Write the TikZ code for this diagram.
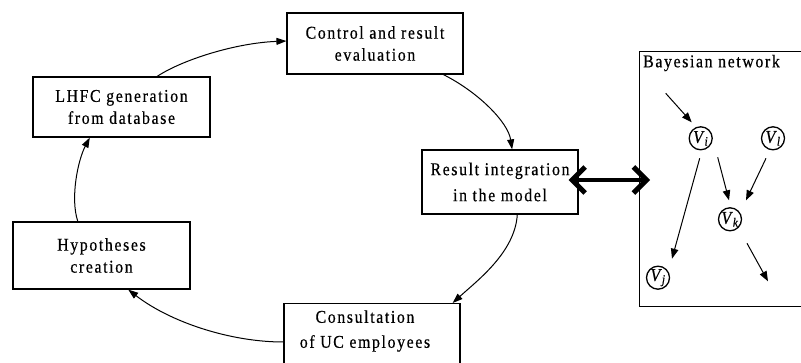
\documentclass[tikz,border=0pt]{standalone}
\usepackage{fontspec}
\setmainfont{Liberation Serif}
\newfontfamily\boxfont{Liberation Serif}[LetterSpace=9, FakeStretch=0.88, FakeBold=0.5]
\newfontfamily\varfont{Liberation Serif}[FakeStretch=0.9, FakeBold=0.6]
\usetikzlibrary{arrows.meta,calc}

\begin{document}
\begin{tikzpicture}[x=1pt,y=-1pt,
  stage/.style={draw, line width=1.2pt, inner sep=0pt, align=center,
    font=\boxfont\fontsize{18}{22}\selectfont},
  boxtext/.style={inner sep=0pt, align=center, font=\boxfont\fontsize{18}{25}\selectfont},
  flow/.style={line width=1pt, -{Triangle[length=10pt,width=7pt]}},
  var/.style={circle, draw, line width=1.3pt, minimum size=23pt, inner sep=0pt,
    font=\varfont\fontsize{18}{18}\selectfont},
  link/.style={line width=1pt, -{Triangle[length=10pt,width=7.5pt]}},
  barb/.tip={Straight Barb[length=13pt,width=26pt,line width=5pt,sharp]},
]
\useasboundingbox (0,0) rectangle (801,363);
\clip (0,0) rectangle (801,363);

% process cycle
\node[stage, minimum width=176pt, minimum height=61pt] (ctrl) at (375,43.5) {Control and result\\evaluation};
\node[stage, minimum width=177pt, minimum height=60pt] (lhfc) at (121.5,107) {LHFC generation\\from database};
\node[stage, minimum width=156pt, minimum height=64pt, font=\boxfont\fontsize{18}{26}\selectfont] (resint) at (500,182) {Result integration\\in the model};
\node[stage, minimum width=177pt, minimum height=67pt] (hyp) at (101.5,255.5) {Hypotheses\\creation};
\node[stage, minimum width=176pt, minimum height=80pt, anchor=north] (cons) at (372,303) {};
\node[boxtext] (constext) at (365,331) {Consultation\\of UC employees};

\draw[flow] ($(lhfc.north west)!0.7!(lhfc.north east)$)
  .. controls (182,60) and (235,43) .. ($(ctrl.north west)!0.46!(ctrl.south west)$);
\draw[flow] ($(ctrl.south west)!0.886!(ctrl.south east)$)
  .. controls (478,92) and (508,122) .. ($(resint.north west)!0.577!(resint.north east)$);
\draw[flow] ($(resint.south west)!0.61!(resint.south east)$)
  .. controls (515,252) and (478,280) .. ($(cons.north west)!0.955!(cons.north east)$);
\draw[flow] ($(cons.north west)+(0,39)$)
  .. controls (230,342) and (170,322) .. ($(hyp.south west)!0.65!(hyp.south east)$);
\draw[flow] ($(hyp.north west)!0.367!(hyp.north east)$)
  .. controls (70,198) and (78,160) .. ($(lhfc.south west)!0.322!(lhfc.south east)$);

% Bayesian network panel
\node[draw, line width=1.2pt, inner sep=0pt, minimum width=200pt, minimum height=255pt,
  anchor=north west] (bn) at (639,51) {};
\node[anchor=west, inner sep=0pt, font=\boxfont\fontsize{18}{20}\selectfont] (bntitle)
  at ($(bn.north west)+(4,12)$) {Bayesian network};

\draw[line width=4pt, barb-barb] ($(resint.east)+(-10,-2)$) -- ($(bn.west |- resint.east)+(11,-2)$);

\node[var] (Vi) at (700.7,138.3) {\textit{V}\textsubscript{\textit{i}}};
\node[var] (Vl) at (773,138.3) {\textit{V}\textsubscript{\textit{l}}};
\node[var] (Vk) at (730,219.3) {\textit{V}\textsubscript{\textit{k}}};
\node[var] (Vj) at (658,277.7) {\textit{V}\textsubscript{\textit{j}}};
\coordinate (vin) at ($(Vi)+(-35,-45)$);
\coordinate (vout) at ($(Vk)+(38,62)$);

\draw[link] (vin) -- ($(Vi)+(-9,-16)$);
\draw[link] ($(Vi)+(-1,20)$) -- ($(Vj)+(14,-19)$);
\draw[link] ($(Vi)+(17,19)$) -- ($(Vk)+(-1,-19)$);
\draw[link] ($(Vl)+(-7,20)$) -- ($(Vk)+(16,-19)$);
\draw[link] ($(Vk)+(17,24)$) -- (vout);
\end{tikzpicture}
\end{document}
